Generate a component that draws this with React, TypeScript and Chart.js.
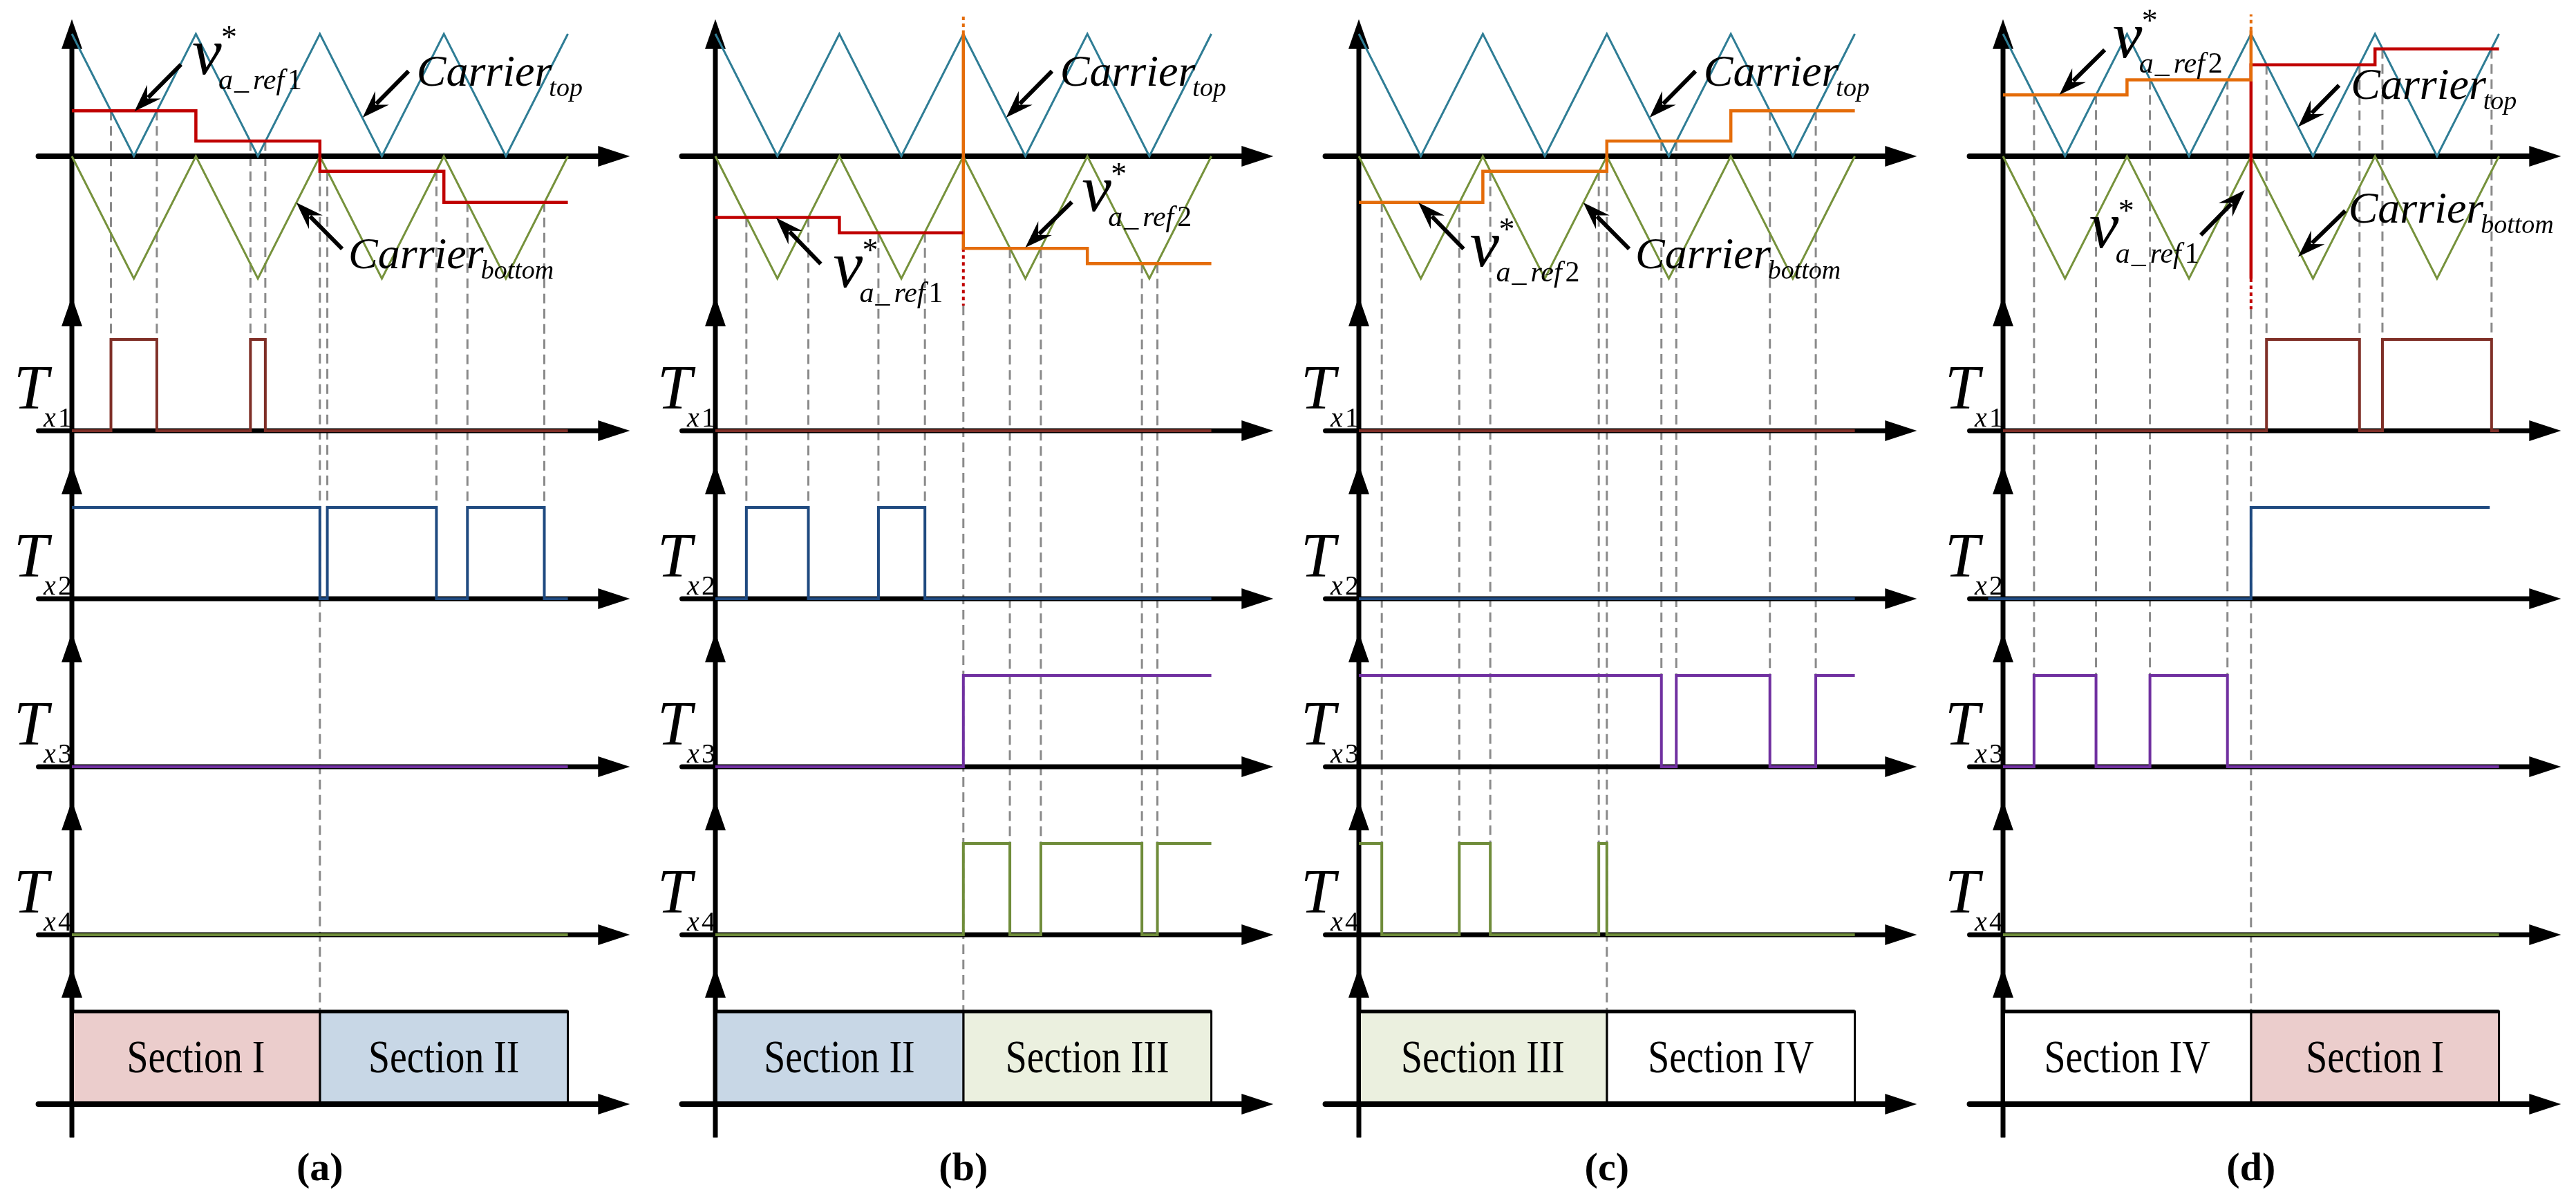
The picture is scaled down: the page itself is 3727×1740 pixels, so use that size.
import React, { useEffect, useRef } from 'react';
import { Chart, registerables } from 'chart.js';

Chart.register(...registerables);

const CANVAS_W = 3727;
const CANVAS_H = 1740;

/* ---------------- data ---------------- */
// time in carrier half-periods, carrier values in amplitude units
const carrierT = [0, 1, 2, 3, 4, 5, 6, 7, 8];
const carrierTop = [1, 0, 1, 0, 1, 0, 1, 0, 1];
const carrierBottom = [0, -1, 0, -1, 0, -1, 0, -1, 0];

// reference steps v*_a_ref1 (red) and v*_a_ref2 (orange)
const refA1T = [0, 2, 4, 6, 8];
const refA1 = [0.372, 0.125, -0.123, -0.377, -0.377];
const refB1T = [0, 2, 4];
const refB1 = [-0.5, -0.626, -0.626];
const refB2T = [4, 4, 6, 8];
const refB2 = [1.0, -0.753, -0.877, -0.877];
const refC2T = [0, 2, 4, 6, 8];
const refC2 = [-0.377, -0.123, 0.125, 0.372, 0.372];
const refD2T = [0, 2, 4];
const refD2 = [0.502, 0.625, 1.03];
const refD1T = [4, 4, 6, 8];
const refD1 = [-1.0, 0.747, 0.877, 0.877];

// dotted extensions of the switch line at t = 4
const switchT = [4, 4];
const dotBOrange = [1.0, 1.16];
const dotBRed = [-0.753, -1.22];
const dotDOrange = [1.03, 1.16];
const dotDRed = [-1.0, -1.25];

// gate signals: switching instants and the level after each instant
const flatT = [0, 8];
const flatLow = [0, 0];
const tx1AT = [0, 0.63, 1.37, 2.88, 3.12, 8];
const tx1A = [0, 1, 0, 1, 0, 0];
const tx2AT = [0, 4.0, 4.12, 5.88, 6.38, 7.62, 8];
const tx2A = [1, 0, 1, 0, 1, 0, 0];
const tx2BT = [0, 0.5, 1.5, 2.63, 3.38, 8];
const tx2B = [0, 1, 0, 1, 0, 0];
const tx3BT = [0, 4, 8];
const tx3B = [0, 1, 1];
const tx4BT = [0, 4, 4.75, 5.25, 6.88, 7.13, 8];
const tx4B = [0, 1, 0, 1, 0, 1, 1];
const tx3CT = [0, 4.88, 5.12, 6.63, 7.37, 8];
const tx3C = [1, 0, 1, 0, 1, 1];
const tx4CT = [0, 0.37, 1.62, 2.12, 3.87, 4.0, 8];
const tx4C = [1, 0, 1, 0, 1, 0, 0];
const tx1DT = [0, 4.25, 5.75, 6.12, 7.88, 8];
const tx1D = [0, 1, 0, 1, 0, 0];
const tx2DT = [-0.24, 4, 7.85];
const tx2D = [0, 1, 1];
const tx3DT = [0, 0.5, 1.5, 2.37, 3.62, 8];
const tx3D = [0, 1, 0, 1, 0, 0];

// dashed projection lines: instant and the gate row (1..4) they reach
const dashAT = [0.63, 1.37, 2.88, 3.12, 4.12, 5.88, 6.38, 7.62];
const dashARow = [1, 1, 1, 1, 2, 2, 2, 2];
const dashBT = [0.5, 1.5, 2.63, 3.38, 4.75, 5.25, 6.88, 7.13];
const dashBRow = [2, 2, 2, 2, 4, 4, 4, 4];
const dashCT = [0.37, 1.62, 2.12, 3.87, 4.88, 5.12, 6.63, 7.37];
const dashCRow = [4, 4, 4, 4, 3, 3, 3, 3];
const dashDT = [0.5, 1.5, 2.37, 3.62, 4.25, 5.75, 6.12, 7.88];
const dashDRow = [3, 3, 3, 3, 1, 1, 1, 1];
const boundaryT = 4;
const boundaryStart = [-0.123, -1.22, -0.123, -1.25];

// sections
const sectionEdges = [0, 4, 8];
const sectionsA = ['Section I', 'Section II'];
const sectionsB = ['Section II', 'Section III'];
const sectionsC = ['Section III', 'Section IV'];
const sectionsD = ['Section IV', 'Section I'];
const panelLabels = ['(a)', '(b)', '(c)', '(d)'];
const rowSubs = ['1', '2', '3', '4'];

/* ---------------- styles & layout ---------------- */
const RED = '#C00000';
const ORANGE = '#E46C0A';
const TEAL = '#2F7D95';
const OLIVE = '#76923C';
const TX_COLORS = ['#7F2F27', '#1F4A80', '#7030A0', '#6F8C3A'];
const SECTION_COLORS: Record<string, string> = {
  'Section I': '#EBCDCC',
  'Section II': '#C8D7E6',
  'Section III': '#EBF0DF',
  'Section IV': '#FFFFFF',
};
const DASH_COLOR = '#8A8A8A';
const SERIF = '"Liberation Serif", "Times New Roman", serif';

const PANEL_ORIGIN = [104, 1035, 1966, 2898];
const UNIT = 89.7;
const CAR_ZERO = 226;
const CAR_AMP = 177;
const TX_BASE = [623, 866, 1109, 1352];
const TX_H = 132;
const SEC_BASE = 1597;
const SEC_H = 134;

const X_IDS = ['xa', 'xb', 'xc', 'xd'];
const TX_IDS = ['yT1', 'yT2', 'yT3', 'yT4'];

const PANELS: any[] = [
  {
    refs: [{ T: refA1T, V: refA1, color: RED }],
    dots: [],
    tx: [[tx1AT, tx1A], [tx2AT, tx2A], [flatT, flatLow], [flatT, flatLow]],
    dashT: dashAT, dashRow: dashARow, sections: sectionsA,
  },
  {
    refs: [{ T: refB1T, V: refB1, color: RED }, { T: refB2T, V: refB2, color: ORANGE }],
    dots: [{ V: dotBOrange, color: ORANGE }, { V: dotBRed, color: RED }],
    tx: [[flatT, flatLow], [tx2BT, tx2B], [tx3BT, tx3B], [tx4BT, tx4B]],
    dashT: dashBT, dashRow: dashBRow, sections: sectionsB,
  },
  {
    refs: [{ T: refC2T, V: refC2, color: ORANGE }],
    dots: [],
    tx: [[flatT, flatLow], [flatT, flatLow], [tx3CT, tx3C], [tx4CT, tx4C]],
    dashT: dashCT, dashRow: dashCRow, sections: sectionsC,
  },
  {
    refs: [{ T: refD2T, V: refD2, color: ORANGE }, { T: refD1T, V: refD1, color: RED }],
    dots: [{ V: dotDOrange, color: ORANGE }, { V: dotDRed, color: RED }],
    tx: [[tx1DT, tx1D], [tx2DT, tx2D], [tx3DT, tx3D], [flatT, flatLow]],
    dashT: dashDT, dashRow: dashDRow, sections: sectionsD,
  },
];

// annotation layout (t, carrier-value) positions
const V_LABELS = [
  { p: 0, n: '1', t: 1.94, y: 0.672, tail: [1.76, 0.75], tip: [1.01, 0.367] },
  { p: 1, n: '2', t: 5.91, y: -0.446, tail: [5.75, -0.373], tip: [5.0, -0.746] },
  { p: 1, n: '1', t: 1.9, y: -1.07, tail: [1.7, -0.88], tip: [0.98, -0.503] },
  { p: 2, n: '2', t: 1.79, y: -0.898, tail: [1.69, -0.757], tip: [0.96, -0.378] },
  { p: 3, n: '2', t: 1.77, y: 0.808, tail: [1.64, 0.87], tip: [0.91, 0.503] },
  { p: 3, n: '1', t: 1.39, y: -0.746, tail: [3.19, -0.644], tip: [3.9, -0.277] },
];
const C_LABELS = [
  { p: 0, sub: 'top', t: 5.56, y: 0.576, tail: [5.43, 0.695], tip: [4.69, 0.316] },
  { p: 0, sub: 'bottom', t: 4.46, y: -0.915, tail: [4.36, -0.757], tip: [3.62, -0.379] },
  { p: 1, sub: 'top', t: 5.56, y: 0.576, tail: [5.43, 0.695], tip: [4.69, 0.316] },
  { p: 2, sub: 'top', t: 5.56, y: 0.576, tail: [5.43, 0.695], tip: [4.69, 0.316] },
  { p: 2, sub: 'bottom', t: 4.46, y: -0.915, tail: [4.36, -0.757], tip: [3.62, -0.379] },
  { p: 3, sub: 'top', t: 5.61, y: 0.469, tail: [5.42, 0.58], tip: [4.76, 0.24] },
  { p: 3, sub: 'bottom', t: 5.57, y: -0.542, tail: [5.52, -0.446], tip: [4.76, -0.82] },
];

/* ---------------- helpers ---------------- */
const pts = (T: number[], V: number[]) => T.map((t, i) => ({ x: t, y: V[i] }));

const levelAt = (T: number[], V: number[], t: number) => {
  let v = V[0];
  for (let i = 0; i < T.length; i++) if (T[i] <= t) v = V[i];
  return v;
};

const refLevel = (P: any, t: number) => {
  for (const r of P.refs) {
    if (t >= r.T[0] && t <= r.T[r.T.length - 1]) return levelAt(r.T, r.V, t);
  }
  return 0;
};

const lineDs = (xId: string, yId: string, data: any[], color: string, width: number, extra: any = {}) => ({
  type: 'line',
  xAxisID: xId,
  yAxisID: yId,
  data,
  borderColor: color,
  backgroundColor: color,
  borderWidth: width,
  pointRadius: 0,
  pointHoverRadius: 0,
  fill: false,
  tension: 0,
  clip: false,
  ...extra,
});

const xScale = (o: number) => {
  const min = -o / UNIT;
  return { type: 'linear', axis: 'x', display: false, min, max: min + CANVAS_W / UNIT };
};
const yScale = (base: number, unit: number) => {
  const max = base / unit;
  return { type: 'linear', axis: 'y', display: false, min: max - CANVAS_H / unit, max };
};

function txt(ctx: any, s: string, x: number, y: number, font: string, align = 'left', baseline = 'alphabetic') {
  ctx.font = font;
  ctx.textAlign = align;
  ctx.textBaseline = baseline;
  ctx.fillText(s, x, y);
}

// text drawn horizontally condensed (like the reference's narrow serif)
function txtNarrow(ctx: any, s: string, x: number, y: number, font: string, sx: number) {
  ctx.save();
  ctx.translate(x, y);
  ctx.scale(sx, 1);
  txt(ctx, s, 0, 0, font, 'center', 'middle');
  ctx.restore();
}

function arrowAnn(ctx: any, x1: number, y1: number, x2: number, y2: number) {
  const a = Math.atan2(y2 - y1, x2 - x1);
  const c = Math.cos(a), s = Math.sin(a);
  const L = 40, Wd = 14;
  ctx.strokeStyle = '#000';
  ctx.lineWidth = 6;
  ctx.lineCap = 'butt';
  ctx.beginPath();
  ctx.moveTo(x1, y1);
  ctx.lineTo(x2 - c * L * 0.7, y2 - s * L * 0.7);
  ctx.stroke();
  ctx.fillStyle = '#000';
  ctx.beginPath();
  ctx.moveTo(x2, y2);
  ctx.lineTo(x2 - c * L - s * Wd, y2 - s * L + c * Wd);
  ctx.lineTo(x2 - c * L * 0.65, y2 - s * L * 0.65);
  ctx.lineTo(x2 - c * L + s * Wd, y2 - s * L - c * Wd);
  ctx.closePath();
  ctx.fill();
}

function hAxis(ctx: any, x0: number, x1: number, y: number, w: number) {
  const L = 46, hw = 15;
  ctx.strokeStyle = '#000';
  ctx.fillStyle = '#000';
  ctx.lineWidth = w;
  ctx.lineCap = 'round';
  ctx.beginPath();
  ctx.moveTo(x0, y);
  ctx.lineTo(x1 - L + 2, y);
  ctx.stroke();
  ctx.beginPath();
  ctx.moveTo(x1, y);
  ctx.lineTo(x1 - L, y - hw);
  ctx.lineTo(x1 - L, y + hw);
  ctx.closePath();
  ctx.fill();
}

function vHead(ctx: any, x: number, y: number) {
  const L = 43, hw = 15;
  ctx.fillStyle = '#000';
  ctx.beginPath();
  ctx.moveTo(x, y);
  ctx.lineTo(x - hw, y + L);
  ctx.lineTo(x + hw, y + L);
  ctx.closePath();
  ctx.fill();
}

const figurePlugin = {
  id: 'figurePlugin',
  beforeDatasetsDraw(chart: any) {
    const ctx = chart.ctx;
    const S = chart.scales;
    const yc = S.yCar;
    const ys = S.ySec;
    ctx.save();
    PANELS.forEach((P, p) => {
      const xs = S[X_IDS[p]];
      // dashed projection lines
      ctx.strokeStyle = DASH_COLOR;
      ctx.lineWidth = 3;
      ctx.lineCap = 'butt';
      ctx.setLineDash([14, 8]);
      P.dashT.forEach((t: number, i: number) => {
        const x = xs.getPixelForValue(t);
        const y0 = yc.getPixelForValue(refLevel(P, t));
        const y1 = S[TX_IDS[P.dashRow[i] - 1]].getPixelForValue(1);
        ctx.beginPath();
        ctx.moveTo(x, y0);
        ctx.lineTo(x, y1);
        ctx.stroke();
      });
      const xb = xs.getPixelForValue(boundaryT);
      ctx.beginPath();
      ctx.moveTo(xb, yc.getPixelForValue(boundaryStart[p]));
      ctx.lineTo(xb, ys.getPixelForValue(1));
      ctx.stroke();
      ctx.setLineDash([]);

      // axes
      const ox = xs.getPixelForValue(0);
      const xl = xs.getPixelForValue(-0.54);
      const xr = xs.getPixelForValue(9.0);
      ctx.strokeStyle = '#000';
      ctx.lineWidth = 7;
      ctx.lineCap = 'butt';
      ctx.beginPath();
      ctx.moveTo(ox, yc.getPixelForValue(1.12) + 20);
      ctx.lineTo(ox, ys.getPixelForValue(-0.36));
      ctx.stroke();
      vHead(ctx, ox, yc.getPixelForValue(1.12));
      hAxis(ctx, xl, xr, yc.getPixelForValue(0), 8);
      TX_IDS.forEach((id) => {
        vHead(ctx, ox, S[id].getPixelForValue(1.47));
        hAxis(ctx, xl, xr, S[id].getPixelForValue(0), 7);
      });
    });
    ctx.restore();
  },
  afterDatasetsDraw(chart: any) {
    const ctx = chart.ctx;
    const S = chart.scales;
    const yc = S.yCar;
    const ys = S.ySec;
    ctx.save();
    PANELS.forEach((P, p) => {
      const xs = S[X_IDS[p]];
      const ox = xs.getPixelForValue(0);
      // section axis
      ctx.strokeStyle = '#000';
      ctx.lineWidth = 6;
      ctx.lineCap = 'butt';
      ctx.beginPath();
      ctx.moveTo(ox, ys.getPixelForValue(1.47) + 20);
      ctx.lineTo(ox, ys.getPixelForValue(-0.36));
      ctx.stroke();
      vHead(ctx, ox, ys.getPixelForValue(1.47));
      hAxis(ctx, xs.getPixelForValue(-0.54), xs.getPixelForValue(9.0), ys.getPixelForValue(0), 8);

      ctx.fillStyle = '#000';
      // section names
      P.sections.forEach((name: string, i: number) => {
        const cx = xs.getPixelForValue((sectionEdges[i] + sectionEdges[i + 1]) / 2);
        txtNarrow(ctx, name, cx, ys.getPixelForValue(0.5) + 3, `68px ${SERIF}`, 0.82);
      });
      // panel label
      txt(ctx, panelLabels[p], xs.getPixelForValue(4), 1707, `bold 58px ${SERIF}`, 'center');
      // row labels T_xk
      TX_IDS.forEach((id, r) => {
        const yb = S[id].getPixelForValue(0);
        txt(ctx, 'T', ox - 84, yb - 32, `italic 90px ${SERIF}`);
        txt(ctx, 'x', ox - 41, yb - 6, `italic 40px ${SERIF}`);
        txt(ctx, rowSubs[r], ox - 20, yb - 6, `40px ${SERIF}`);
      });
    });

    // v* labels
    V_LABELS.forEach((L) => {
      const xs = S[X_IDS[L.p]];
      const vx = xs.getPixelForValue(L.t);
      const vy = yc.getPixelForValue(L.y);
      ctx.fillStyle = '#000';
      txt(ctx, 'v', vx, vy, `italic 96px ${SERIF}`);
      txt(ctx, '*', vx + 42, vy - 38, `46px ${SERIF}`);
      const sx = vx + 38, sy = vy + 22;
      txt(ctx, 'a', sx, sy, `italic 42px ${SERIF}`);
      txt(ctx, '_', sx + 23, sy, `italic 42px ${SERIF}`);
      txt(ctx, 'ref', sx + 50, sy, `italic 42px ${SERIF}`);
      txt(ctx, L.n, sx + 100, sy, `42px ${SERIF}`);
      arrowAnn(ctx, xs.getPixelForValue(L.tail[0]), yc.getPixelForValue(L.tail[1]),
        xs.getPixelForValue(L.tip[0]), yc.getPixelForValue(L.tip[1]));
    });

    // Carrier labels
    C_LABELS.forEach((L) => {
      const xs = S[X_IDS[L.p]];
      const cx = xs.getPixelForValue(L.t);
      const cy = yc.getPixelForValue(L.y);
      ctx.fillStyle = '#000';
      txt(ctx, 'Carrier', cx, cy, `italic 64px ${SERIF}`);
      const w = ctx.measureText('Carrier').width;
      txt(ctx, L.sub, cx + w - 4, cy + 15, `italic 38px ${SERIF}`);
      arrowAnn(ctx, xs.getPixelForValue(L.tail[0]), yc.getPixelForValue(L.tail[1]),
        xs.getPixelForValue(L.tip[0]), yc.getPixelForValue(L.tip[1]));
    });
    ctx.restore();
  },
};

function buildDatasets() {
  const ds: any[] = [];
  PANELS.forEach((P, p) => {
    const xId = X_IDS[p];
    P.refs.forEach((r: any) =>
      ds.push(lineDs(xId, 'yCar', pts(r.T, r.V), r.color, 4.5, { stepped: 'before', order: 1 })));
    P.dots.forEach((d: any) =>
      ds.push(lineDs(xId, 'yCar', pts(switchT, d.V), d.color, 4, { borderDash: [5, 5], order: 2 })));
    ds.push(lineDs(xId, 'yCar', pts(carrierT, carrierTop), TEAL, 3, { order: 5 }));
    ds.push(lineDs(xId, 'yCar', pts(carrierT, carrierBottom), OLIVE, 3, { order: 5 }));
    P.tx.forEach((tv: any, r: number) =>
      ds.push(lineDs(xId, TX_IDS[r], pts(tv[0], tv[1]), TX_COLORS[r], 4, { stepped: 'before', order: 4 })));
    P.sections.forEach((name: string, i: number) => {
      const t0 = sectionEdges[i], t1 = sectionEdges[i + 1];
      ds.push(lineDs(xId, 'ySec', pts([t0, t0, t1, t1], [0, 1, 1, 0]), '#000', 3,
        { fill: 'origin', backgroundColor: SECTION_COLORS[name], order: 9 }));
    });
    ds.push(lineDs(xId, 'ySec', pts([0, 8], [1, 1]), '#000', 5, { order: 8 }));
  });
  return ds;
}

export default function App() {
  const canvasRef = useRef<HTMLCanvasElement | null>(null);
  useEffect(() => {
    document.body.style.margin = '0';
    document.body.style.background = '#fff';
    const scales: any = {
      yCar: yScale(CAR_ZERO, CAR_AMP),
      ySec: yScale(SEC_BASE, SEC_H),
    };
    X_IDS.forEach((id, p) => { scales[id] = xScale(PANEL_ORIGIN[p]); });
    TX_IDS.forEach((id, r) => { scales[id] = yScale(TX_BASE[r], TX_H); });
    const chart = new Chart(canvasRef.current as HTMLCanvasElement, {
      type: 'line',
      data: { datasets: buildDatasets() },
      options: {
        animation: false,
        responsive: false,
        devicePixelRatio: 1,
        events: [],
        layout: { padding: 0 },
        scales,
        plugins: { legend: { display: false }, tooltip: { enabled: false }, title: { display: false } },
      } as any,
      plugins: [figurePlugin as any],
    } as any);
    return () => chart.destroy();
  }, []);
  return (
    <div style={{ width: CANVAS_W, height: CANVAS_H, background: '#fff' }}>
      <canvas ref={canvasRef} width={CANVAS_W} height={CANVAS_H} style={{ width: CANVAS_W, height: CANVAS_H, display: 'block' }} />
    </div>
  );
}
